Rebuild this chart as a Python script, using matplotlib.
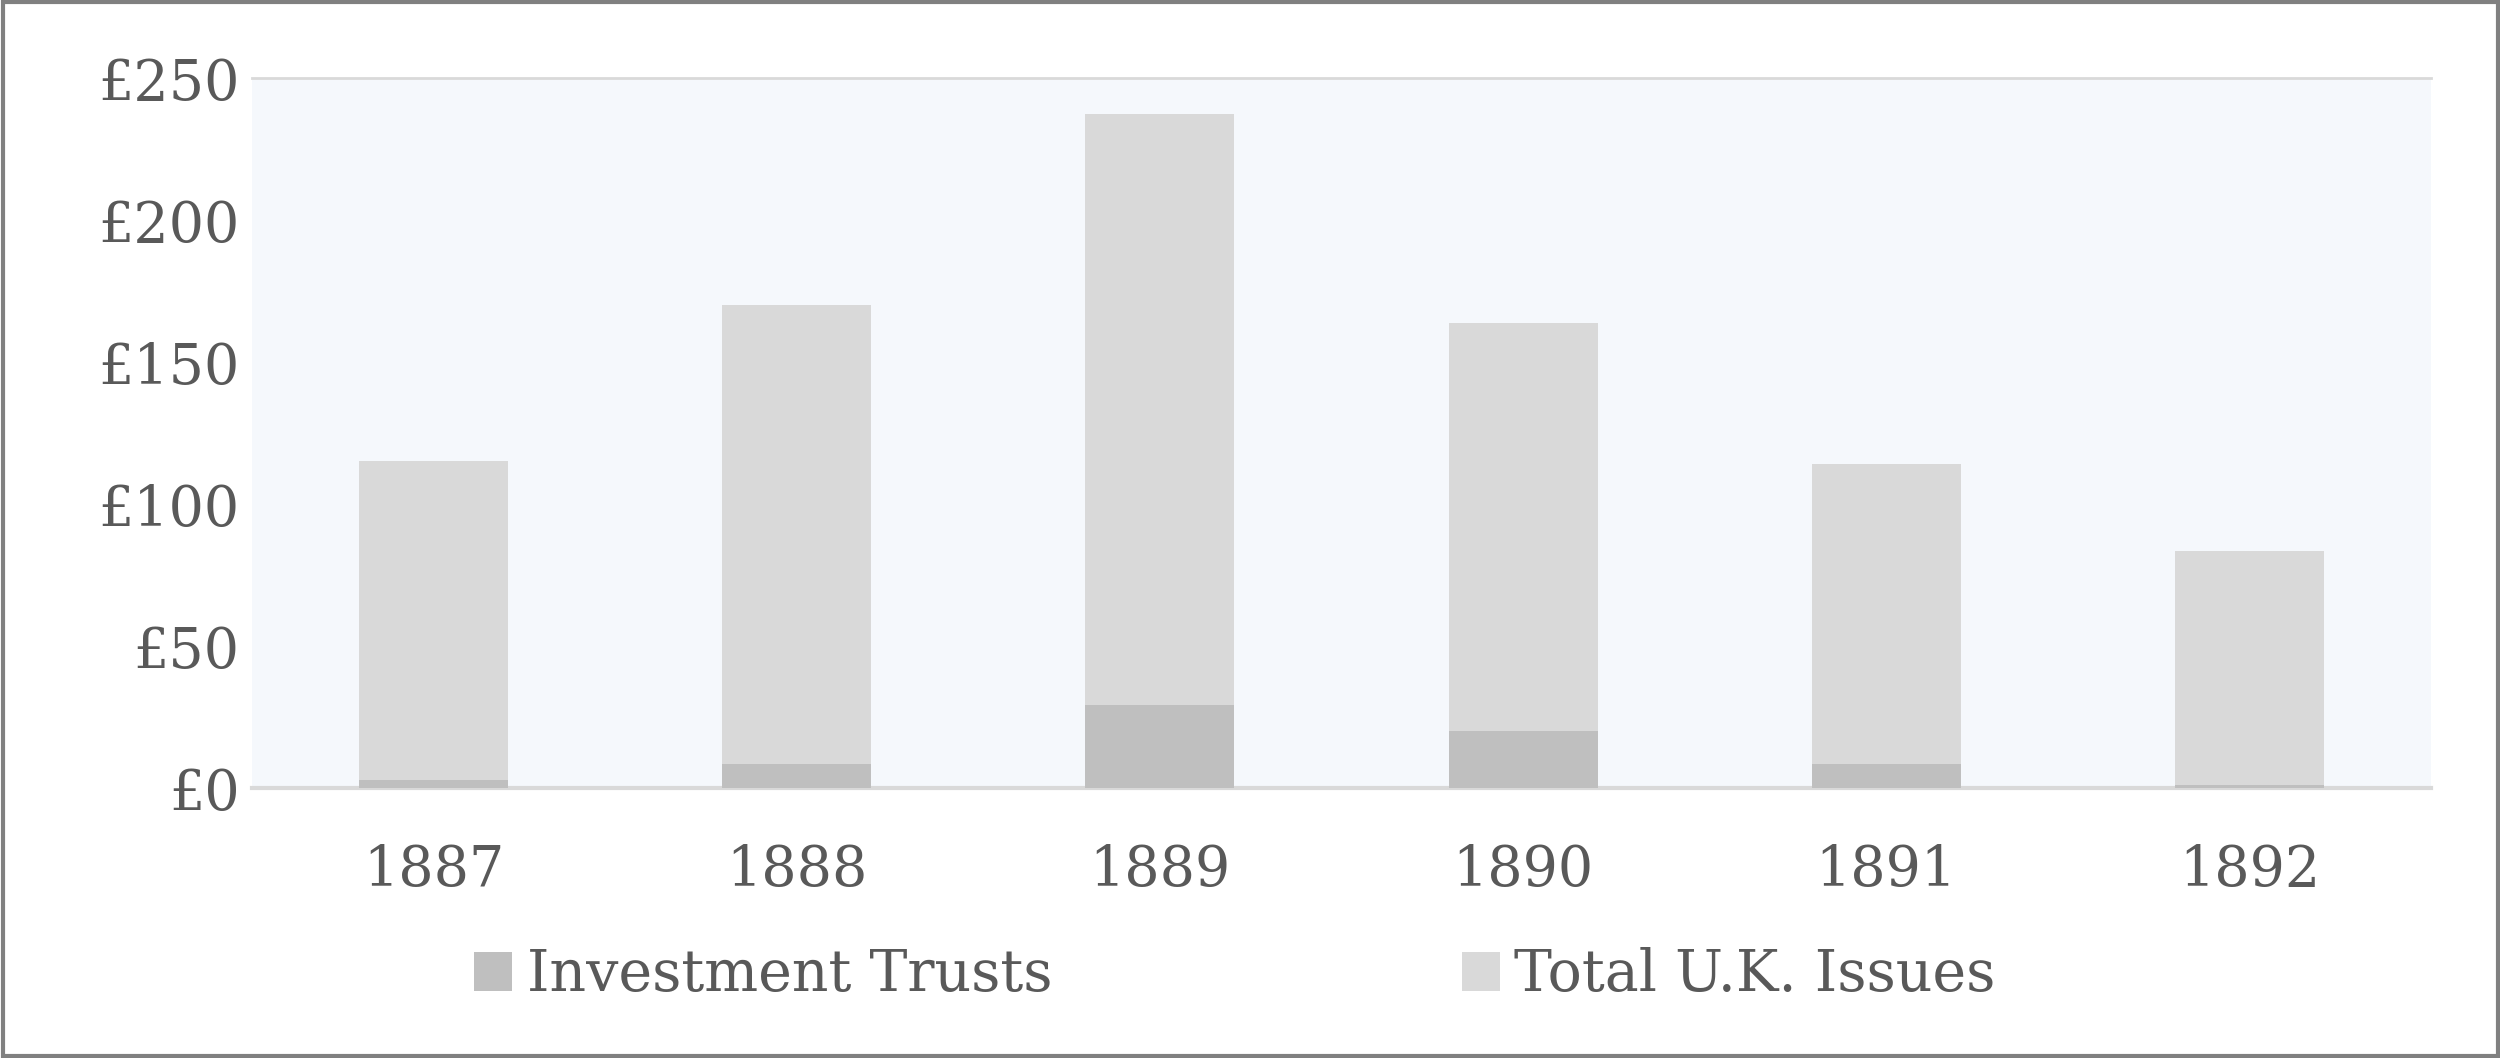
import matplotlib
matplotlib.use("Agg")
import matplotlib.pyplot as plt
from matplotlib.patches import Rectangle
from matplotlib.ticker import FuncFormatter

# Capital issues (millions of pounds)
years = ["1887", "1888", "1889", "1890", "1891", "1892"]
investment_trusts = [2.8, 8.4, 29.2, 20.2, 8.4, 1.1]
total_uk_issues = [115.2, 170.2, 237.6, 164.0, 114.0, 83.7]
yticks = [0, 50, 100, 150, 200, 250]

txt = "#595959"
plt.rcParams["font.family"] = ["DejaVu Serif"]

fig = plt.figure(figsize=(25, 10.58), dpi=100)
ax = fig.add_axes([0.1008, 0.255, 0.8716, 0.671])
ax.set_facecolor("#F5F8FC")

x = range(len(years))
ax.bar(x, total_uk_issues, width=0.41, color="#D9D9D9", label="Total U.K. Issues", zorder=2)
ax.bar(x, investment_trusts, width=0.41, color="#BFBFBF", label="Investment Trusts", zorder=3)

ax.set_xlim(-0.5, len(years) - 0.5)
ax.set_ylim(0, 250)
ax.set_xticks(list(x))
ax.set_xticklabels(years)
ax.set_yticks(yticks)
ax.yaxis.set_major_formatter(FuncFormatter(lambda v, p: "£%d" % v))
ax.tick_params(length=0, labelsize=40, colors=txt)
ax.tick_params(axis="x", pad=40)
ax.tick_params(axis="y", pad=9)

for s in ["left", "right"]:
    ax.spines[s].set_visible(False)
ax.spines["top"].set_color("#D9D9D9")
ax.spines["top"].set_linewidth(2)
ax.spines["bottom"].set_color("#D9D9D9")
ax.spines["bottom"].set_linewidth(3)

h, l = ax.get_legend_handles_labels()
leg = fig.legend(h[::-1], l[::-1], loc="center", bbox_to_anchor=(0.494, 0.078), ncol=2,
                 frameon=False, fontsize=41, handlelength=0.67, handleheight=0.67,
                 handletextpad=0.25, columnspacing=7.2, labelcolor=txt)

fig.patches.append(Rectangle((0.001, 0.002), 0.998, 0.996, transform=fig.transFigure,
                             fill=False, edgecolor="#808080", linewidth=3))

fig.savefig("out.png", dpi=100)
